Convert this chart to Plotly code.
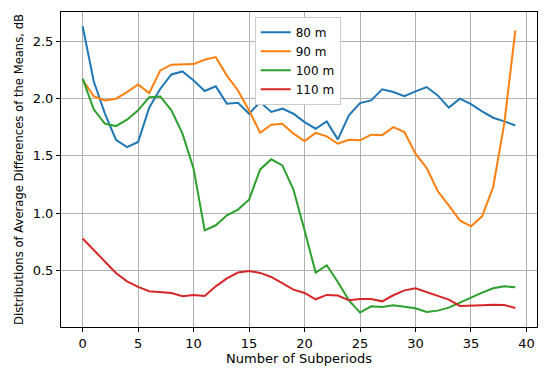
import plotly.graph_objects as go

subperiods = list(range(40))

s80 = [2.63, 2.15, 1.87, 1.64, 1.576, 1.62, 1.92, 2.085, 2.21, 2.236,
       2.158, 2.065, 2.106, 1.955, 1.963, 1.867, 1.969, 1.882, 1.911, 1.867,
       1.794, 1.736, 1.80, 1.643, 1.853, 1.96, 1.983, 2.08, 2.056, 2.02,
       2.062, 2.10, 2.027, 1.92, 1.998, 1.95, 1.887, 1.832, 1.80, 1.764]

s90 = [2.164, 2.02, 1.983, 1.998, 2.056, 2.123, 2.047, 2.245, 2.295, 2.30,
       2.30, 2.338, 2.361, 2.20, 2.07, 1.896, 1.70, 1.771, 1.78, 1.693,
       1.628, 1.70, 1.669, 1.605, 1.64, 1.635, 1.684, 1.68, 1.75, 1.707,
       1.518, 1.395, 1.192, 1.067, 0.936, 0.884, 0.971, 1.227, 1.78, 2.594]

s100 = [2.173, 1.905, 1.78, 1.759, 1.815, 1.896, 2.012, 2.018, 1.896, 1.693,
        1.387, 0.849, 0.893, 0.98, 1.03, 1.117, 1.381, 1.469, 1.416, 1.204,
        0.849, 0.48, 0.544, 0.398, 0.238, 0.131, 0.186, 0.18, 0.195, 0.18,
        0.168, 0.136, 0.148, 0.174, 0.215, 0.262, 0.305, 0.343, 0.36, 0.352]

s110 = [0.777, 0.675, 0.579, 0.477, 0.404, 0.355, 0.317, 0.311, 0.302, 0.273,
        0.285, 0.276, 0.36, 0.43, 0.48, 0.494, 0.477, 0.442, 0.39, 0.331,
        0.302, 0.247, 0.285, 0.28, 0.238, 0.25, 0.25, 0.229, 0.282, 0.325,
        0.343, 0.311, 0.276, 0.244, 0.189, 0.189, 0.195, 0.2, 0.197, 0.171]

names = ["80 m", "90 m", "100 m", "110 m"]
colors = ["#1f77b4", "#ff7f0e", "#2ca02c", "#d62728"]
x_ticks = [0, 5, 10, 15, 20, 25, 30, 35, 40]
y_ticks = [0.5, 1.0, 1.5, 2.0, 2.5]

fig = go.Figure()
for name, ys, c in zip(names, [s80, s90, s100, s110], colors):
    fig.add_trace(go.Scatter(x=subperiods, y=ys, mode="lines", name=name,
                             line=dict(color=c, width=2)))

font = "DejaVu Sans"
axis_common = dict(
    showgrid=True, gridcolor="#b0b0b0", gridwidth=1,
    showline=True, linecolor="black", linewidth=1, mirror=True,
    ticks="outside", ticklen=4, tickcolor="black", tickwidth=1,
    zeroline=False, automargin=False,
    tickfont=dict(family=font, size=13, color="black"),
)
fig.update_xaxes(range=[-1.95, 40.95], tickvals=x_ticks,
                 title=dict(text="Number of Subperiods", font=dict(family=font, size=13, color="black"), standoff=4),
                 **axis_common)
fig.update_yaxes(range=[0.005, 2.755], tickvals=y_ticks, tickformat=".1f",
                 title=dict(text="Distributions of Average Differences of the Means, dB",
                            font=dict(family=font, size=11.6, color="black"), standoff=6),
                 **axis_common)

fig.update_layout(
    width=550, height=368,
    margin=dict(l=61, r=13, t=12, b=41),
    plot_bgcolor="white", paper_bgcolor="white",
    font=dict(family=font, size=13, color="black"),
    legend=dict(x=0.407, y=0.985, xanchor="left", yanchor="top",
                bgcolor="white", bordercolor="#cccccc", borderwidth=1,
                font=dict(family=font, size=12, color="black"),
                itemwidth=30, tracegroupgap=0),
    showlegend=True,
)

fig.write_html("out.html", config={"displayModeBar": False},
               post_script="document.body.style.margin='0';")
